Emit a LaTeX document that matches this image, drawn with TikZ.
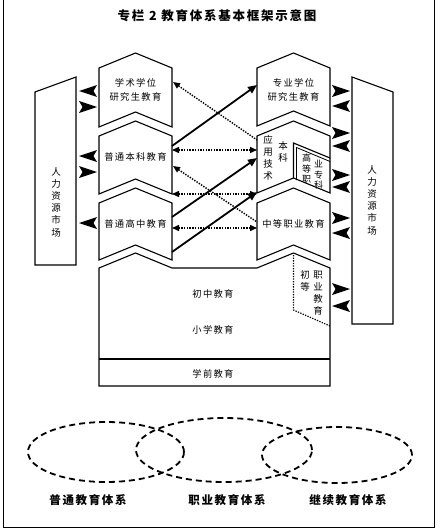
\documentclass[tikz,border=0pt]{standalone}
\usepackage{fontspec}
\setmainfont{Liberation Serif}
\newfontfamily\cjk[LetterSpace=14]{Noto Sans CJK SC}
\newfontfamily\cjkv{Noto Sans CJK SC}
\usetikzlibrary{arrows.meta,calc,shapes.geometric}
\tikzset{
  box/.style={draw, line width=1.1pt, fill=white, line join=miter},
  lbl/.style={font=\cjk\fontsize{9.3}{14}\selectfont, align=center, inner sep=0pt},
  vtxt/.style={font=\cjkv\fontsize{9.5}{12.2}\selectfont, align=center, inner sep=0pt},
  titl/.style={font=\cjk\bfseries\fontsize{12.5}{14}\selectfont, inner sep=0pt},
  sysl/.style={font=\cjk\bfseries\fontsize{11.5}{13}\selectfont, inner sep=0pt},
  bighead/.style={fill=black},
  solidarr/.style={-{Triangle[length=9pt,width=7.5pt]}, line width=1.8pt},
  dottip/.style={{Triangle[length=7pt,width=6pt]}-{Triangle[length=7pt,width=6pt]}, line width=1.4pt, dash pattern=on 1.4pt off 1.3pt},
  dotone/.style={{Triangle[length=7pt,width=6pt]}-, line width=1.4pt, dash pattern=on 1.4pt off 1.3pt},
  sysell/.style={draw, ellipse, line width=1.8pt, dash pattern=on 6pt off 4pt, inner sep=0pt},
}
\begin{document}
\begin{tikzpicture}[x=1pt,y=-1pt]
\useasboundingbox (0,0) rectangle (440,532);
\draw[line width=0.8pt] (3,0) -- (3,527) -- (434,527) -- (434,0);
\node[titl] (title) at (217,16) {专栏 2 教育体系基本框架示意图};

% human resource markets
\draw[box] (35,92) -- (76,77) -- (76,265) -- (35,265) -- cycle;
\node[vtxt] (hrL) at (56,202) {人\\力\\资\\源\\市\\场};
\draw[box] (352,77) -- (393,92) -- (393,324) -- (352,324) -- cycle;
\node[vtxt] (hrR) at (372,200) {人\\力\\资\\源\\市\\场};

% left column
\draw[box] (99,68) -- (135.5,53) -- (172,68) -- (172,127) -- (135.5,112) -- (99,127) -- cycle;
\node[lbl] (xs) at (135.5,90) {学术学位\\研究生教育};
\draw[box] (99,136) -- (135.5,121) -- (172,136) -- (172,194) -- (135.5,179) -- (99,194) -- cycle;
\node[lbl] (bk) at (135.5,157) {普通本科教育};
\draw[box] (99,203) -- (135.5,188) -- (172,203) -- (172,260) -- (135.5,245) -- (99,260) -- cycle;
\node[lbl] (gz) at (135.5,224) {普通高中教育};

% right column
\draw[box] (257,68) -- (293.5,53) -- (330,68) -- (330,126) -- (293.5,111) -- (257,126) -- cycle;
\node[lbl] (zy) at (293.5,90) {专业学位\\研究生教育};
\draw[box] (257,136) -- (293.5,121) -- (330,136) -- (330,193) -- (293.5,178) -- (257,193) -- cycle;
\draw[line width=1.1pt] (293.5,178) -- (293.5,143) -- (330,158);
\draw[line width=0.8pt] (296.5,180) -- (296.5,147.5) -- (330,161.5);
\node[vtxt] (yy) at (268,158) {应\\用\\技\\术};
\node[vtxt] (yyb) at (283,152) {本\\科};
\node[vtxt,font=\cjkv\fontsize{9}{10.5}\selectfont] (gzz1) at (306.5,169) {高\\等\\职};
\node[vtxt,font=\cjkv\fontsize{9}{10.5}\selectfont] (gzz2) at (318.5,175) {业\\专\\科};
\draw[box] (257,203) -- (293.5,188) -- (330,203) -- (330,260) -- (293.5,245) -- (257,260) -- cycle;
\node[lbl] (zz) at (293.5,224) {中等职业教育};

% base
\draw[box] (99,268) -- (135.5,253) -- (172,268) -- (257,268) -- (293.5,253) -- (330,268) -- (330,386) -- (99,386) -- cycle;
\draw[line width=1.1pt] (99,359) -- (330,359);
\draw[line width=1.2pt, dash pattern=on 1.3pt off 1.3pt] (293.5,255) -- (293.5,310) -- (330,326);
\node[vtxt] (cd1) at (305,281) {初\\等};
\node[vtxt] (cd2) at (318,293) {职\\业\\教\\育};
\node[lbl] (cz) at (213,294) {初中教育};
\node[lbl] (xx) at (213,330) {小学教育};
\node[lbl] (xq) at (213,374) {学前教育};

% big arrow heads (tip coordinate, direction: 1 = points left, -1 = points right)
\foreach \y/\t/\s [count=\i] in {91/79/1, 107/97/-1, 156/79/1, 172/97/-1, 223/79/1}{
  \coordinate (Lt\i) at (\t,\y);
  \fill[bighead] (Lt\i) -- ++(\s*18,-6) -- ++(-\s*3.5,6) -- ++(\s*3.5,6) -- cycle;
}
\foreach \y/\t/\s [count=\i] in {91/350/-1, 106/332/1, 133/350/-1, 146/332/1, 175/350/-1, 187/332/1, 218/350/-1, 233/332/1, 289/350/-1, 306/332/1}{
  \coordinate (Rt\i) at (\t,\y);
  \fill[bighead] (Rt\i) -- ++(\s*18,-6) -- ++(-\s*3.5,6) -- ++(\s*3.5,6) -- cycle;
}

% middle connectors
\coordinate (s1a) at (172,146); \coordinate (s1b) at (257,85);
\coordinate (s2a) at (172,217); \coordinate (s2b) at (257,158);
\coordinate (s3a) at (172,252); \coordinate (s3b) at (257,192);
\draw[solidarr] (s1a) -- (s1b);
\draw[solidarr] (s2a) -- (s2b);
\draw[solidarr] (s3a) -- (s3b);
\coordinate (d1a) at (172,150); \coordinate (d1b) at (257,150);
\coordinate (d2a) at (172,194); \coordinate (d2b) at (257,194);
\coordinate (d3a) at (172,228); \coordinate (d3b) at (257,228);
\draw[dottip] (d1a) -- (d1b);
\draw[dottip] (d2a) -- (d2b);
\draw[dottip] (d3a) -- (d3b);
\coordinate (d4a) at (173,82); \coordinate (d4b) at (257,140);
\coordinate (d5a) at (173,166); \coordinate (d5b) at (257,222);
\draw[dotone] (d4a) -- (d4b);
\draw[dotone] (d5a) -- (d5b);

% systems
\node[sysell, minimum width=156pt, minimum height=60pt] (e1) at (106,452) {};
\node[sysell, minimum width=176pt, minimum height=64pt] (e2) at (224,450) {};
\node[sysell, minimum width=150pt, minimum height=56pt] (e3) at (337,455) {};
\node[sysl] (l1) at (88,500) {普通教育体系};
\node[sysl] (l2) at (227,500) {职业教育体系};
\node[sysl] (l3) at (348,500) {继续教育体系};
\end{tikzpicture}
\end{document}
